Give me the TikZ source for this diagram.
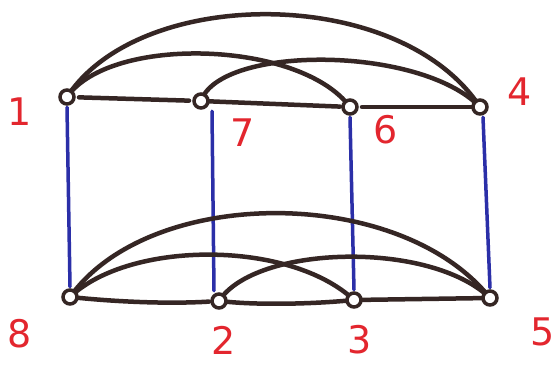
\documentclass[tikz,border=0pt]{standalone}
\usepackage{fontspec}
\setmainfont{DejaVu Sans}
\begin{document}
\begin{tikzpicture}[x=1pt,y=-1pt,
  vtx/.style={circle,draw=edgec,line width=3.5pt,fill=white,minimum size=17pt,inner sep=0pt},
  edge/.style={draw=edgec,line width=4.5pt,line cap=round},
  rung/.style={draw=bluec,line width=3.5pt,line cap=round},
  lab/.style={text=redc,font=\fontsize{38}{38}\selectfont,inner sep=0pt}]
\definecolor{edgec}{HTML}{352624}
\definecolor{bluec}{HTML}{2B2FA8}
\definecolor{redc}{HTML}{E3262E}
\useasboundingbox[fill=white] (0,0) rectangle (558,366);
% vertices positions
\coordinate (p1) at (67,97);
\coordinate (p7) at (201,101);
\coordinate (p6) at (350,107);
\coordinate (p4) at (480,107);
\coordinate (p8) at (70,297);
\coordinate (p2) at (219,301);
\coordinate (p3) at (354,300);
\coordinate (p5) at (490,298);
% vertex nodes (placed first for anchors, redrawn on top later)
\path (p1) node[vtx,draw=none,fill=none] (v1) {}
      (p7) node[vtx,draw=none,fill=none] (v7) {}
      (p6) node[vtx,draw=none,fill=none] (v6) {}
      (p4) node[vtx,draw=none,fill=none] (v4) {}
      (p8) node[vtx,draw=none,fill=none] (v8) {}
      (p2) node[vtx,draw=none,fill=none] (v2) {}
      (p3) node[vtx,draw=none,fill=none] (v3) {}
      (p5) node[vtx,draw=none,fill=none] (v5) {};
% blue rungs
\draw[rung] (v1.south) -- (v8.north);
\draw[rung] ([xshift=11pt]v7.south) -- ([xshift=-5pt]v2.north);
\draw[rung] (v6.south) -- (v3.north);
\draw[rung] ([xshift=3pt]v4.south) -- (v5.north);
% top edges
\draw[edge] (p1) .. controls (140,-15) and (400,-15) .. (p4);
\draw[edge] (p1) .. controls (110,35) and (300,40) .. (p6);
\draw[edge] (p7) .. controls (220,45) and (420,45) .. (p4);
\draw[edge,shorten <=12pt,shorten >=12pt] (p1) -- (p7);
\draw[edge,shorten <=8pt,shorten >=10pt] (p7) -- (p6);
\draw[edge,shorten <=12pt,shorten >=6pt] (p6) -- (p4);
% bottom edges
\draw[edge] (p8) .. controls (150,185) and (400,185) .. (p5);
\draw[edge] (p8) .. controls (130,240) and (290,240) .. (p3);
\draw[edge] (p2) .. controls (255,245) and (430,240) .. (p5);
\draw[edge,shorten <=8pt,shorten >=10pt] (p8) .. controls (120,302) and (170,304) .. (p2);
\draw[edge,shorten <=8pt,shorten >=8pt] (p2) .. controls (260,305) and (310,304) .. (p3);
\draw[edge,shorten <=8pt,shorten >=6pt] (p3) -- (p5);
% vertex circles
\foreach \v in {v1,v7,v6,v4,v8,v2,v3,v5}
  \draw[edgec,line width=3.5pt,fill=white] (\v.center) circle[radius=7pt];
% labels
\node[lab] (l1) at (20,112) {1};
\node[lab] (l7) at (243,133) {7};
\node[lab] (l6) at (386,130) {6};
\node[lab] (l4) at (520,92) {4};
\node[lab] (l8) at (20,334) {8};
\node[lab] (l2) at (224,340) {2};
\node[lab] (l3) at (360,340) {3};
\node[lab] (l5) at (543,332) {5};
\end{tikzpicture}
\end{document}
